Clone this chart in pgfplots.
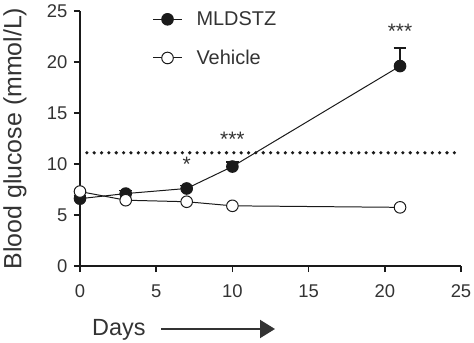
\documentclass[border=0pt]{standalone}
\usepackage{fontspec}
\setmainfont{Liberation Sans}
\usepackage{pgfplots}
\pgfplotsset{compat=1.18}
\usetikzlibrary{arrows.meta}
\definecolor{ink}{HTML}{1A1A1A}
\definecolor{txt}{HTML}{333333}
\begin{document}
\begin{tikzpicture}[x=1bp,y=1bp]
\useasboundingbox (-80bp,-77bp) rectangle (394bp,266bp);
\begin{axis}[
  at={(0,0)}, anchor=origin,
  scale only axis, width=381bp, height=255bp,
  xmin=0, xmax=25, ymin=0, ymax=25,
  axis x line*=bottom, axis y line*=left,
  axis line style={ink, line width=1.5pt},
  xtick={0,5,...,25}, ytick={0,5,...,25},
  tick style={ink, line width=1.5pt},
  tick align=outside, major tick length=6bp,
  /pgf/number format/assume math mode=true,
  tick label style={font=\fontsize{18.5}{22}\selectfont, text=txt},
  xticklabel style={yshift=-9bp},
  yticklabel style={xshift=-3bp},
  ylabel={Blood glucose (mmol/L)},
  ylabel style={font=\fontsize{25}{29}\selectfont, text=txt, at={(axis description cs:-0.202,0.5)}, anchor=north, rotate=0, inner sep=0pt},
  clip=false,
  legend style={draw=none, fill=none, at={(axis cs:4.55,25.35)}, anchor=north west, font=\fontsize{20}{24}\selectfont, text=txt, row sep=19bp, column sep=12bp},
  legend cell align=left,
  legend image code/.code={\draw[mark repeat=2, mark phase=2, #1] plot coordinates {(0bp,0bp) (14.5bp,0bp) (29bp,0bp)};},
]
\addplot[ink, line width=1pt, mark=*, mark size=5.8bp, mark options={fill=ink, draw=ink},
  error bars/.cd, y dir=plus, y explicit, error bar style={ink, line width=1.8pt}, error mark options={ink, line width=1.8pt, mark size=6.3bp, rotate=90}]
  coordinates {(0,6.6) +- (0,0.3) (3,7.1) +- (0,0.3) (7,7.6) +- (0,0.3) (10,9.75) +- (0,0.45) (21,19.6) +- (0,1.75)};
\addlegendentry{MLDSTZ}
\addplot[ink, line width=1pt, mark=*, mark size=5.8bp, mark options={fill=white, draw=ink}]
  coordinates {(0,7.3) (3,6.45) (7,6.3) (10,5.9) (21,5.75)};
\addlegendentry{Vehicle}
\addplot[ink, line width=3.6bp, line cap=round, dash pattern=on 0bp off 7.35bp, forget plot] coordinates {(0.45,11.1) (25,11.1)};
\node[text=txt, font=\fontsize{21}{24}\selectfont, anchor=base] at (axis cs:7,9.25) {*};
\node[text=txt, font=\fontsize{21}{24}\selectfont, anchor=base] at (axis cs:10,11.7) {***};
\node[text=txt, font=\fontsize{21}{24}\selectfont, anchor=base] at (axis cs:21,22.3) {***};
\end{axis}
\node[text=txt, font=\fontsize{23.5}{27}\selectfont, anchor=base west, inner sep=0] at (12bp,-69bp) {Days};
\draw[txt, line width=2pt, -{Triangle[length=15bp, width=18bp]}] (81bp,-63bp) -- (195bp,-63bp);
\end{tikzpicture}
\end{document}
